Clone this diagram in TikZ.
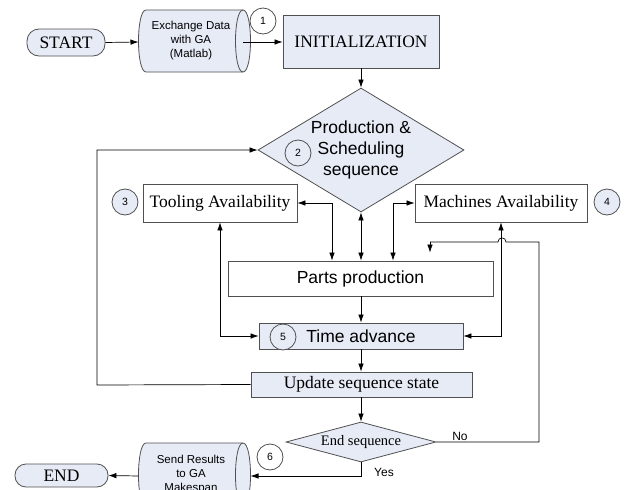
\documentclass[tikz,border=0pt]{standalone}
\usepackage{fontspec}
\setmainfont{Liberation Serif}
\newfontfamily\arial{Liberation Sans}
\usetikzlibrary{shapes.geometric,arrows.meta}
\definecolor{lb}{HTML}{E6EBF6}
\definecolor{bd}{HTML}{505050}
\tikzset{
  box/.style={draw=bd, line width=0.8pt, rectangle, inner sep=0pt},
  bluebox/.style={box, fill=lb},
  serif17/.style={font=\fontsize{17.5}{21}\selectfont},
  sans17/.style={font=\arial\fontsize{17.5}{21}\selectfont},
  sans11/.style={font=\arial\fontsize{11.5}{14}\selectfont, align=center},
  numc/.style={circle, draw=bd, line width=0.8pt, minimum size=26pt, inner sep=0pt, font=\arial\fontsize{10.5}{12}\selectfont},
  term/.style={bluebox, rounded corners=12pt},
  conn/.style={line width=0.7pt, -{Latex[length=8pt,width=5.5pt]}},
  conn2/.style={line width=0.7pt, {Latex[length=8pt,width=5.5pt]}-{Latex[length=8pt,width=5.5pt]}},
  lbl/.style={font=\arial\fontsize{12}{14}\selectfont, inner sep=1pt},
  cylshape/.style={draw=bd, line width=0.8pt, fill=lb}
}
\begin{document}
\begin{tikzpicture}[x=1pt,y=-1pt]
\useasboundingbox (0,0) rectangle (625,490);
\clip (0,0) rectangle (625,490);

% START
\node[term, serif17, minimum width=78pt, minimum height=27pt] (start) at (66,42.5) {START};

% Exchange Data cylinder
\path[cylshape] (146,10) -- (243,10) .. controls (253,10) and (253,72) .. (243,72) -- (146,72) .. controls (136,72) and (136,10) .. (146,10) -- cycle;
\draw[draw=bd, line width=0.8pt] (243,10) .. controls (233,10) and (233,72) .. (243,72);
\node[sans11] (ex) at (191,41) {Exchange Data\\with GA\\(Matlab)};
\coordinate (exL) at (138.5,42);
\coordinate (exR) at (243,42);
\node[numc, fill=white] (c1) at (263,21) {1};

% INITIALIZATION
\node[bluebox, serif17, minimum width=156pt, minimum height=53pt] (init) at (361,41.5) {INITIALIZATION};

% Production diamond
\node[diamond, draw=bd, line width=0.8pt, fill=lb, inner sep=0pt, aspect=1.66, minimum width=206pt, minimum height=124pt, sans17, align=center] (prod) at (361,150) {Production \&\\Scheduling\\sequence};
\node[numc, fill=lb] (c2) at (298,153) {2};

% Availability boxes
\node[box, fill=white, serif17, minimum width=154pt, minimum height=38pt] (tool) at (220,203) {Tooling Availability};
\node[numc, fill=lb] (c3) at (125,202) {3};
\node[box, fill=white, serif17, minimum width=172pt, minimum height=38pt] (mach) at (501,203) {Machines Availability};
\node[numc, fill=lb] (c4) at (607,202) {4};

% Parts production
\node[box, fill=white, sans17, minimum width=265pt, minimum height=35pt] (parts) at (360.5,278.5) {Parts production};

% Time advance
\node[bluebox, sans17, minimum width=204pt, minimum height=26pt] (time) at (361,336) {Time advance};
\node[numc, fill=lb] (c5) at (283,337) {5};

% Update
\node[bluebox, serif17, minimum width=221pt, minimum height=25pt] (upd) at (361.5,384.5) {Update sequence state};

% End sequence diamond
\node[diamond, draw=bd, line width=0.8pt, fill=lb, inner sep=0pt, aspect=3.75, minimum width=150pt, minimum height=40pt, font=\fontsize{14.5}{16}\selectfont] (endseq) at (361,442) {End sequence};

% Send Results cylinder
\path[cylshape] (146,443) -- (243,443) .. controls (253,443) and (253,507) .. (243,507) -- (146,507) .. controls (136,507) and (136,443) .. (146,443) -- cycle;
\draw[draw=bd, line width=0.8pt] (243,443) .. controls (233,443) and (233,507) .. (243,507);
\node[sans11] (send) at (191,475) {Send Results\\to GA\\Makespan};
\coordinate (sendL) at (138.5,476);
\coordinate (sendR) at (250.5,476);
\node[numc, fill=white] (c6) at (270,457) {6};

% END
\node[term, serif17, minimum width=93pt, minimum height=23pt, rounded corners=11pt] (endn) at (61.5,475.5) {END};

% Connectors
\draw[conn] (start.east) -- (exL);
\draw[conn] (exR) -- (init.west |- exR);
\draw[conn] (init.south) -- (prod.north);
\draw[conn2] (tool.east) -| ([xshift=-28.5pt]parts.north);
\draw[conn2] (prod.south) -- (prod.south |- parts.north);
\draw[conn2] (mach.west) -| ([xshift=32.5pt]parts.north);
\draw[conn2] (tool.south) |- (time.west);
\draw[conn2] (mach.south) |- (time.east);
\draw[conn] (parts.south -| time.north) -- (time.north);
\draw[conn] (time.south) -- (time.south |- upd.north);
\draw[conn] (upd.south -| endseq.north) -- (endseq.north);
\coordinate (loopx) at (97,385);
\draw[conn] (upd.west) -- (loopx) |- (prod.west);
% No path
\coordinate (nox) at (539,442);
\coordinate (noy) at (539,242);
\coordinate (hopR) at (506,242);
\coordinate (hopL) at (498,242);
\coordinate (retx) at (430,242);
\draw[line width=0.7pt] (endseq.east) -- node[lbl, pos=0.23, above] (no) {No} (nox) -- (noy) -- (hopR) .. controls (506,236.5) and (498,236.5) .. (hopL) -- (retx);
\draw[conn, shorten >=8pt] (retx) -- (retx |- parts.north);
% Yes path
\coordinate (yesy) at (361,476);
\draw[conn] (endseq.south) -- (yesy) -- (sendR);
\node[lbl] (yes) at (384,472) {Yes};
\draw[conn] (sendL) -- (endn.east);
\end{tikzpicture}
\end{document}
